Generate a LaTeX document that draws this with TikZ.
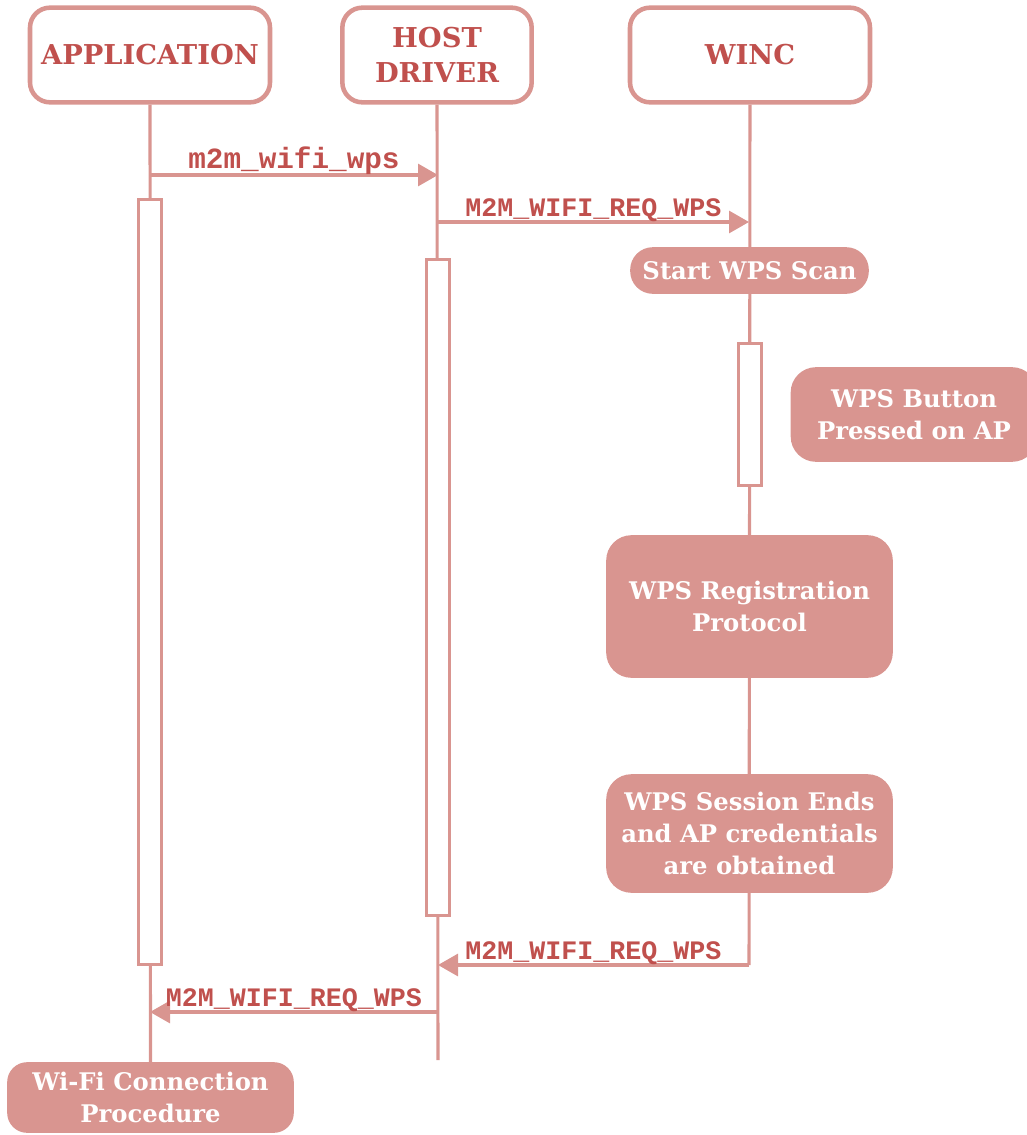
\documentclass[tikz,border=0pt]{standalone}
\usepackage{fontspec}
\setmainfont{DejaVu Serif}
\setmonofont{Liberation Mono}
\usetikzlibrary{arrows.meta}
\definecolor{lc}{RGB}{217,149,144}
\definecolor{tc}{RGB}{192,80,77}
\begin{document}
\begin{tikzpicture}[x=0.75pt,y=-0.75pt,
  head/.style={draw=lc, line width=3.4pt, rounded corners=15pt, fill=white,
    minimum height=71pt, text=tc, align=center,
    font=\fontsize{20.5}{26}\selectfont\bfseries, inner sep=0pt},
  life/.style={draw=lc, line width=2.3pt},
  act/.style={draw=lc, line width=2.3pt, fill=white, minimum width=17pt, inner sep=0pt},
  action/.style={fill=lc, text=white, align=center, inner sep=0pt,
    font=\fontsize{18.2}{24}\selectfont\bfseries},
  msg/.style={draw=lc, line width=2.3pt, -{Triangle[length=15pt,width=16.5pt]}},
  lbl/.style={text=tc, font=\fontsize{20}{20}\selectfont\ttfamily\bfseries, inner sep=0pt},
  lbls/.style={lbl, font=\fontsize{22}{22}\selectfont\ttfamily\bfseries}
]
\useasboundingbox (0,0) rectangle (1027,1135);

% headers
\node[head, minimum width=180pt] (app) at (150,55) {APPLICATION};
\node[head, minimum width=142pt] (host) at (437,55) {HOST\\DRIVER};
\node[head, minimum width=180pt] (winc) at (750,55) {WINC};

% end-of-lifeline points
\node[action, rounded corners=15pt, minimum width=215pt, minimum height=53pt] (wifi) at (150.5,1097.5) {Wi-Fi Connection\\Procedure};
\coordinate (hostEnd) at (438,1060);
\coordinate (wincEnd) at (749,965);

% lifelines
\draw[life] (app.south) -- (wifi.north);
\draw[life] (host.south) -- (hostEnd);
\draw[life] (winc.south) -- (wincEnd);

% activation bars
\node[act, minimum height=574pt] (actApp) at (150,582) {};
\node[act, minimum height=492pt] (actHost) at (438,587.5) {};
\node[act, minimum height=107pt] (actWinc) at (750,414.5) {};

% action boxes
\node[action, rounded corners=17pt, minimum width=179pt, minimum height=35pt] (scan) at (749.5,270.5) {Start WPS Scan};
\node[action, rounded corners=19pt, minimum width=185pt, minimum height=71pt] (button) at (914,414.5) {WPS Button\\Pressed on AP};
\node[action, rounded corners=19pt, minimum width=215pt, minimum height=107pt] (reg) at (749.5,606.5) {WPS Registration\\Protocol};
\node[action, rounded corners=19pt, minimum width=215pt, minimum height=89pt] (sess) at (749.5,833.5) {WPS Session Ends\\and AP credentials\\are obtained};

% message coordinates
\coordinate (m1s) at (150,175);
\coordinate (m1e) at (438,175);
\coordinate (m2s) at (438,222);
\coordinate (m2e) at (749,222);
\coordinate (m4e) at (438,965);
\coordinate (m5s) at (438,1012);
\coordinate (m5e) at (150,1012);

\draw[msg] (m1s) -- node[lbls, above=-0.5pt] {m2m\_wifi\_wps} (m1e);
\draw[msg] (m2s) -- node[lbl, above=-1pt] {M2M\_WIFI\_REQ\_WPS} (m2e);
\draw[msg] (wincEnd) -- node[lbl, above=-1pt] {M2M\_WIFI\_REQ\_WPS} (m4e);
\draw[msg] (m5s) -- node[lbl, above=-1pt] {M2M\_WIFI\_REQ\_WPS} (m5e);
\end{tikzpicture}
\end{document}
